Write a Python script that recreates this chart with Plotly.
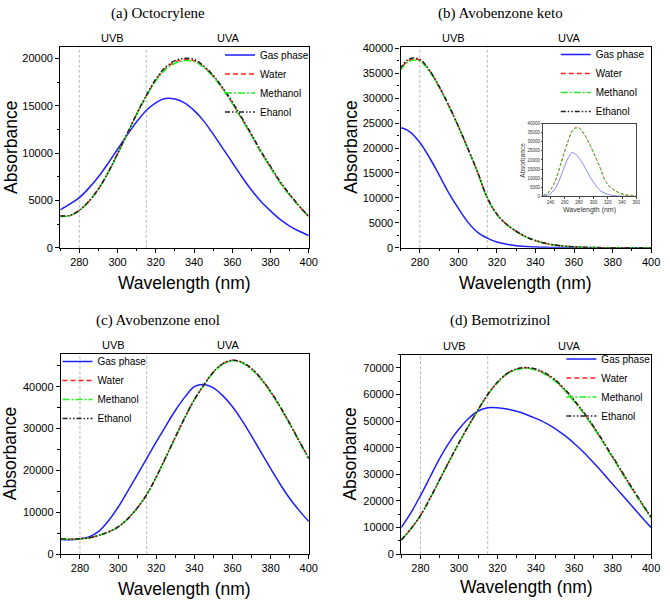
import plotly.graph_objects as go

# ---------------- data ----------------
WL = [270, 275, 280, 285, 290, 295, 300, 305, 310, 315, 320, 325, 330, 335,
      340, 345, 350, 355, 360, 365, 370, 375, 380, 385, 390, 395, 400]
WL_B = [230, 235, 240, 245, 250, 255, 260, 265] + WL

# (a) Octocrylene
A_GAS = [4000, 4600, 5300, 6300, 7500, 8900, 10400, 11900, 13300, 14500, 15300, 15750, 15700, 15300,
         14500, 13400, 12000, 10500, 9000, 7500, 6100, 4900, 3900, 3000, 2300, 1750, 1300]
A_WATER = [3350, 3400, 3950, 4900, 6200, 7900, 9900, 12000, 14100, 16000, 17700, 18900, 19600, 19850,
           19750, 19100, 18100, 16800, 15300, 13600, 11900, 10100, 8500, 6900, 5600, 4400, 3300]
A_METHANOL = [3300, 3380, 3930, 4880, 6180, 7880, 9880, 11980, 14080, 15950, 17620, 18800, 19480, 19750,
              19680, 19050, 18050, 16750, 15250, 13550, 11850, 10050, 8450, 6850, 5550, 4350, 3250]
A_ETHANOL = [3350, 3420, 3970, 4920, 6230, 7930, 9950, 12050, 14150, 16080, 17800, 19050, 19750, 20000,
             19880, 19200, 18200, 16900, 15400, 13700, 12000, 10200, 8600, 7000, 5650, 4420, 3320]

# (b) Avobenzone keto (wavelengths WL_B, 230-400 nm)
B_GAS = [300, 700, 1600, 3500, 6800, 11500, 16800, 21300,
         24000, 23200, 21100, 18100, 14600, 11000, 7900, 5100, 3100, 1950, 1150, 700, 420, 260,
         160, 100, 60, 30, 15, 8, 4, 2, 1, 0, 0, 0, 0]
B_WATER = [600, 1500, 3500, 7000, 12200, 18600, 25000, 30800,
           35800, 37700, 37600, 35500, 32300, 28500, 24300, 19800, 15100, 10000, 6700, 4700, 3300, 2200,
           1450, 900, 550, 330, 200, 110, 60, 30, 15, 5, 0, 0, 0]
B_METHANOL = [590, 1480, 3470, 6950, 12100, 18450, 24800, 30600,
              35600, 37450, 37400, 35350, 32200, 28400, 24250, 19750, 15050, 9950, 6650, 4680, 3280, 2190,
              1440, 890, 545, 325, 195, 105, 58, 28, 14, 4, 0, 0, 0]
B_ETHANOL = [610, 1520, 3530, 7050, 12300, 18750, 25200, 31000,
             36000, 37950, 37750, 35600, 32350, 28550, 24350, 19850, 15150, 10050, 6750, 4720, 3320, 2220,
             1460, 910, 555, 335, 205, 112, 62, 31, 16, 6, 0, 0, 0]

# (c) Avobenzone enol
C_GAS = [3500, 3450, 3700, 4200, 5500, 8000, 11200, 15000, 18900, 22800, 26800, 30600, 34300, 37500,
         40000, 40500, 39700, 37800, 35200, 31900, 28200, 24300, 20400, 16700, 13300, 10400, 7800]
C_WATER = [3700, 3550, 3650, 3900, 4500, 5300, 6500, 8400, 11000, 14200, 18400, 23100, 27900, 32600,
           36900, 40400, 43500, 45500, 46300, 45800, 44300, 41900, 38800, 35200, 31200, 27000, 22900]
C_METHANOL = [3680, 3540, 3640, 3890, 4490, 5290, 6480, 8380, 10970, 14160, 18350, 23050, 27850, 32550,
              36850, 40350, 43400, 45400, 46200, 45650, 44100, 41700, 38600, 35000, 31000, 26800, 22700]
C_ETHANOL = [3710, 3560, 3660, 3910, 4510, 5310, 6510, 8410, 11010, 14220, 18420, 23120, 27920, 32620,
             36920, 40420, 43520, 45520, 46320, 45820, 44320, 41920, 38820, 35220, 31220, 27020, 22920]

# (d) Bemotrizinol
D_GAS = [10000, 15500, 22000, 29000, 36000, 42000, 47000, 51000, 53800, 55000, 55000, 54500, 53700, 52500,
         51000, 49300, 47200, 44600, 41600, 38200, 34400, 30400, 26300, 22200, 18100, 14000, 10000]
D_WATER = [5300, 9500, 14500, 21000, 28000, 35000, 41800, 48200, 54300, 60000, 64500, 67800, 69500, 70000,
           69400, 67800, 65300, 61800, 57600, 53000, 47800, 42200, 36400, 30600, 24800, 19200, 13800]
D_METHANOL = [5250, 9450, 14450, 20950, 27950, 34950, 41750, 48100, 54200, 59850, 64350, 67600, 69300, 69750,
              69150, 67500, 65000, 61500, 57300, 52700, 47500, 41900, 36100, 30300, 24500, 18900, 13500]
D_ETHANOL = [5300, 9500, 14500, 21000, 28000, 35000, 41800, 48200, 54300, 60000, 64550, 67900, 69600, 70100,
             69550, 68000, 65550, 62050, 57850, 53250, 48050, 42450, 36650, 30800, 25000, 19350, 13900]

TITLES = ["(a) Octocrylene", "(b) Avobenzone keto", "(c) Avobenzone enol", "(d) Bemotrizinol"]
NAMES_A = ["Gas phase", "Water", "Methanol", "Ehanol"]
NAMES = ["Gas phase", "Water", "Methanol", "Ethanol"]
UV_BOUNDS = [280, 315]
UV_LABELS = ["UVB", "UVA"]
X_RANGE = [270, 400]
INSET_X_RANGE = [230, 360]
Y_TOPS = [21170, 40200, 47900, 75000]
Y_DTICK = [5000, 5000, 10000, 10000]

# ---------------- styling ----------------
W, H = 670, 607
SANS = "Liberation Sans, Arial, sans-serif"
SERIF = "Liberation Serif, Times New Roman, serif"
COLORS = ["#1e1eff", "#ff2020", "#22ee22", "#202020"]
DASHES = ["solid", "5px,3px", "7px,2px,2px,2px", "5px,2px,1.5px,2px,1.5px,2px"]

def fx(px):
    return px / W

def fy(py):
    return 1 - py / H

# panel plot areas in pixels: (left, right, top, bottom)
BOXES = [(61, 313, 43, 247.3), (406, 660, 43, 247.3),
         (61.7, 313, 355, 559.3), (406.7, 660, 356, 559.3)]
LEGEND_POS = [(223, 80), (563.3, 79.5), (58.3, 392), (569, 389.5)]
TITLE_X = [160, 507, 160, 507]
TITLE_Y = [8.5, 8.5, 321.7, 321.7]
XTITLE_Y = [283, 283, 595, 593]
YTITLE_X = [10.5, 355, 10.5, 355]

panel_series = [
    (WL, [A_GAS, A_WATER, A_METHANOL, A_ETHANOL], NAMES_A),
    (WL_B, [B_GAS, B_WATER, B_METHANOL, B_ETHANOL], NAMES),
    (WL, [C_GAS, C_WATER, C_METHANOL, C_ETHANOL], NAMES),
    (WL, [D_GAS, D_WATER, D_METHANOL, D_ETHANOL], NAMES),
]

fig = go.Figure()
layout = dict(width=W, height=H, margin=dict(l=0, r=0, t=0, b=0),
              paper_bgcolor="white", plot_bgcolor="white", showlegend=True)
annotations = []
shapes = []

for i, (wl, series, names) in enumerate(panel_series):
    n = i + 1
    xa = "x" if n == 1 else f"x{n}"
    ya = "y" if n == 1 else f"y{n}"
    leg = "legend" if n == 1 else f"legend{n}"
    for s, (vals, name) in enumerate(zip(series, names)):
        fig.add_trace(go.Scatter(
            x=wl, y=vals, name=name, mode="lines", xaxis=xa, yaxis=ya, legend=leg,
            line=dict(color=COLORS[s], dash=DASHES[s], width=1.5, shape="spline", smoothing=1.0),
            hoverinfo="skip"))
    l, r, t, b = BOXES[i]
    axis_common = dict(showline=True, linecolor="black", linewidth=1.2, mirror=True,
                       showgrid=False, zeroline=False, ticks="outside", ticklen=4,
                       tickwidth=1, tickcolor="black",
                       tickfont=dict(family=SANS, size=11, color="black"))
    layout[f"xaxis{n if n > 1 else ''}"] = dict(
        domain=[fx(l), fx(r)], range=X_RANGE, anchor=ya, tick0=280, dtick=20,
        minor=dict(dtick=10, tick0=270, ticks="outside", ticklen=2.5, tickcolor="black"),
        **axis_common)
    layout[f"yaxis{n if n > 1 else ''}"] = dict(
        domain=[fy(b), fy(t)], range=[0, Y_TOPS[i]], anchor=xa, tick0=0, dtick=Y_DTICK[i],
        tickformat="d",
        minor=dict(dtick=Y_DTICK[i] / 2, ticks="outside", ticklen=2.5, tickcolor="black"),
        **axis_common)
    lx, ly = LEGEND_POS[i]
    layout[leg] = dict(x=fx(lx), y=fy(ly), xanchor="left", yanchor="middle",
                       bgcolor="rgba(0,0,0,0)", borderwidth=0, tracegroupgap=0,
                       font=dict(family=SANS, size=10, color="black"), itemwidth=30)
    # UV boundaries
    for xb in UV_BOUNDS:
        shapes.append(dict(type="line", xref=xa, yref=f"{ya} domain", x0=xb, x1=xb, y0=0, y1=1,
                           line=dict(color="#b8b8b8", width=1, dash="3px,2px"), layer="below"))
    edges = [UV_BOUNDS[0], UV_BOUNDS[1], X_RANGE[1]]
    for k, lab in enumerate(UV_LABELS):
        annotations.append(dict(text=lab, xref=xa, yref=f"{ya} domain",
                                x=(edges[k] + edges[k + 1]) / 2, y=1, yanchor="bottom",
                                yshift=1, showarrow=False,
                                font=dict(family=SANS, size=11, color="black")))
    # titles
    cx = (l + r) / 2
    annotations.append(dict(text=TITLES[i], xref="paper", yref="paper", x=fx(TITLE_X[i]),
                            y=fy(TITLE_Y[i]), xanchor="center", yanchor="middle", showarrow=False,
                            font=dict(family=SERIF, size=15, color="black")))
    annotations.append(dict(text="Wavelength (nm)", xref="paper", yref="paper", x=fx(cx),
                            y=fy(XTITLE_Y[i]), xanchor="center", yanchor="middle", showarrow=False,
                            font=dict(family=SANS, size=17.5, color="black")))
    annotations.append(dict(text="Absorbance", xref="paper", yref="paper", x=fx(YTITLE_X[i]),
                            y=fy((t + b) / 2), xanchor="center", yanchor="middle", showarrow=False,
                            textangle=-90, font=dict(family=SANS, size=17.5, color="black")))

# ---------------- inset in panel (b) ----------------
IL, IR, IT, IB = 550.7, 645, 120.7, 195
inset_colors = ["rgba(40,40,255,0.55)", "#ff3030", "#30d030"]
inset_dash = ["solid", "3px,2px", "3px,2px"]
for s, vals in enumerate([B_GAS, B_WATER, B_METHANOL]):
    fig.add_trace(go.Scatter(x=WL_B, y=vals, mode="lines", xaxis="x5", yaxis="y5", showlegend=False,
                             line=dict(color=inset_colors[s], width=1, dash=inset_dash[s],
                                       shape="spline", smoothing=1.0), hoverinfo="skip"))
inset_axis = dict(showline=True, linecolor="#444", linewidth=0.8, mirror=True, showgrid=False,
                  zeroline=False, ticks="outside", ticklen=1.5, tickwidth=0.6, tickcolor="#444",
                  tickfont=dict(family=SANS, size=4.5, color="#333"))
layout["xaxis5"] = dict(domain=[fx(IL), fx(IR)], range=INSET_X_RANGE, anchor="y5", tick0=240,
                        dtick=20, **inset_axis)
layout["yaxis5"] = dict(domain=[fy(IB), fy(IT)], range=[0, 40000], anchor="x5", tick0=0, dtick=5000,
                        tickformat="d", **inset_axis)
for xb in UV_BOUNDS:
    shapes.append(dict(type="line", xref="x5", yref="y5 domain", x0=xb, x1=xb, y0=0, y1=1,
                       line=dict(color="#d8d8d8", width=0.8), layer="below"))
annotations.append(dict(text="Wavelength (nm)", xref="paper", yref="paper", x=fx((IL + IR) / 2),
                        y=fy(209), xanchor="center", yanchor="middle", showarrow=False,
                        font=dict(family=SANS, size=7, color="#333")))
annotations.append(dict(text="Absorbance", xref="paper", yref="paper", x=fx(530), y=fy((IT + IB) / 2),
                        xanchor="center", yanchor="middle", showarrow=False, textangle=-90,
                        font=dict(family=SANS, size=6.5, color="#333")))

layout["annotations"] = annotations
layout["shapes"] = shapes
fig.update_layout(**layout)
fig.write_html("out.html")
